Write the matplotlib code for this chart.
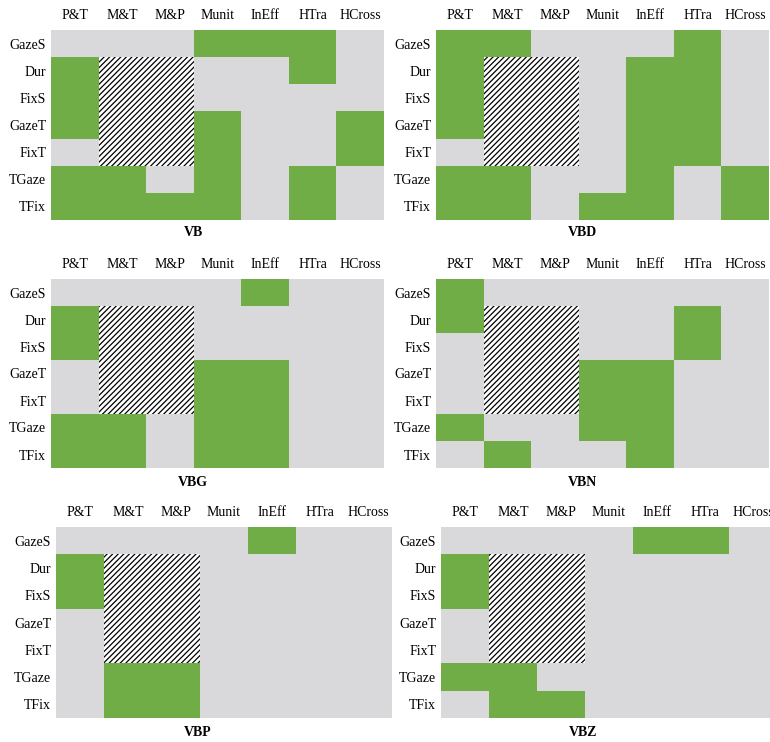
import numpy as np
import matplotlib
matplotlib.use("Agg")
import matplotlib.pyplot as plt
from matplotlib.colors import ListedColormap
from matplotlib.patches import Rectangle

plt.rcParams['font.family'] = ['Liberation Serif', 'DejaVu Serif']
plt.rcParams['hatch.linewidth'] = 0.9

rows = ["GazeS", "Dur", "FixS", "GazeT", "FixT", "TGaze", "TFix"]
cols = ["P&T", "M&T", "M&P", "Munit", "InEff", "HTra", "HCross"]

# 1 = significant (green), 0 = not (gray), None = not applicable (hatched)
H = None
vb = [[0, 0, 0, 1, 1, 1, 0],
      [1, H, H, 0, 0, 1, 0],
      [1, H, H, 0, 0, 0, 0],
      [1, H, H, 1, 0, 0, 1],
      [0, H, H, 1, 0, 0, 1],
      [1, 1, 0, 1, 0, 1, 0],
      [1, 1, 1, 1, 0, 1, 0]]
vbd = [[1, 1, 0, 0, 0, 1, 0],
       [1, H, H, 0, 1, 1, 0],
       [1, H, H, 0, 1, 1, 0],
       [1, H, H, 0, 1, 1, 0],
       [0, H, H, 0, 1, 1, 0],
       [1, 1, 0, 0, 1, 0, 1],
       [1, 1, 0, 1, 1, 0, 1]]
vbg = [[0, 0, 0, 0, 1, 0, 0],
       [1, H, H, 0, 0, 0, 0],
       [1, H, H, 0, 0, 0, 0],
       [0, H, H, 1, 1, 0, 0],
       [0, H, H, 1, 1, 0, 0],
       [1, 1, 0, 1, 1, 0, 0],
       [1, 1, 0, 1, 1, 0, 0]]
vbn = [[1, 0, 0, 0, 0, 0, 0],
       [1, H, H, 0, 0, 1, 0],
       [0, H, H, 0, 0, 1, 0],
       [0, H, H, 1, 1, 0, 0],
       [0, H, H, 1, 1, 0, 0],
       [1, 0, 0, 1, 1, 0, 0],
       [0, 1, 0, 0, 1, 0, 0]]
vbp = [[0, 0, 0, 0, 1, 0, 0],
       [1, H, H, 0, 0, 0, 0],
       [1, H, H, 0, 0, 0, 0],
       [0, H, H, 0, 0, 0, 0],
       [0, H, H, 0, 0, 0, 0],
       [0, 1, 1, 0, 0, 0, 0],
       [0, 1, 1, 0, 0, 0, 0]]
vbz = [[0, 0, 0, 0, 1, 1, 0],
       [1, H, H, 0, 0, 0, 0],
       [1, H, H, 0, 0, 0, 0],
       [0, H, H, 0, 0, 0, 0],
       [0, H, H, 0, 0, 0, 0],
       [1, 1, 0, 0, 0, 0, 0],
       [0, 1, 1, 0, 0, 0, 0]]

titles = ["VB", "VBD", "VBG", "VBN", "VBP", "VBZ"]
matrices = [vb, vbd, vbg, vbn, vbp, vbz]

GREEN = "#70ad47"
GRAY = "#d9d9db"
cmap = ListedColormap([GRAY, GREEN])

W, Hpx = 770, 742
# panel boxes in pixels: left, top, width, height, title x, title y
boxes = [(51, 30, 333, 190, 193, 233),
         (436, 30, 333, 190, 582, 233),
         (51, 279, 333, 189, 193, 482),
         (436, 279, 333, 189, 582, 482),
         (56, 527, 336, 191, 198, 732),
         (441, 527, 336, 191, 583, 732)]

fig = plt.figure(figsize=(W / 100, Hpx / 100), dpi=100)

for title, mat, (l, t, w, h, tx, ty) in zip(titles, matrices, boxes):
    ax = fig.add_axes([l / W, 1 - (t + h) / Hpx, w / W, h / Hpx])
    vals = np.array([[np.nan if v is None else v for v in r] for r in mat], dtype=float)
    masked = np.ma.masked_invalid(vals)
    ax.pcolormesh(np.arange(8), np.arange(8), masked, cmap=cmap, vmin=0, vmax=1)
    for i in range(len(rows)):
        for j in range(len(cols)):
            if np.isnan(vals[i, j]):
                ax.add_patch(Rectangle((j, i), 1, 1, facecolor="white",
                                       edgecolor="black", hatch="//////", lw=0))
    ax.set_xlim(0, 7)
    ax.set_ylim(7, 0)
    ax.set_xticks(np.arange(7) + 0.5)
    ax.set_xticklabels(cols, fontsize=10)
    ax.set_yticks(np.arange(7) + 0.5)
    ax.set_yticklabels(rows, fontsize=10)
    ax.xaxis.tick_top()
    ax.tick_params(axis="x", length=0, pad=6)
    ax.tick_params(axis="y", length=0, pad=3.5)
    for s in ax.spines.values():
        s.set_visible(False)
    fig.text(tx / W, 1 - ty / Hpx, title, ha="center", va="center",
             fontsize=10, fontweight="bold")

fig.savefig("out.png", dpi=100)
